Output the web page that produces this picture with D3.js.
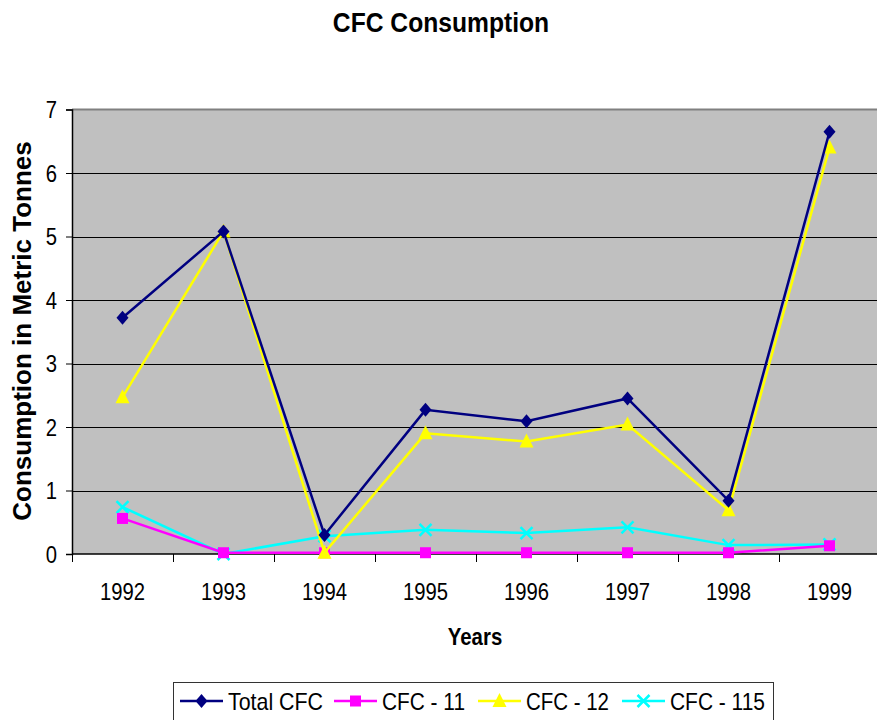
<!DOCTYPE html>
<html><head><meta charset="utf-8">
<script src="https://cdn.jsdelivr.net/npm/d3@7"></script>
<style>body{margin:0;background:#fff}svg{display:block;font-family:"Liberation Sans",Arial,sans-serif}</style>
</head><body><svg id="c" width="877" height="720"></svg>
<script>
const years = ["1992","1993","1994","1995","1996","1997","1998","1999"];
const totalCFC = [3.72, 5.08, 0.30, 2.27, 2.09, 2.45, 0.84, 6.65];
const cfc11 = [0.56, 0.02, 0.02, 0.02, 0.02, 0.02, 0.02, 0.13];
const cfc12 = [2.47, 5.08, 0.02, 1.90, 1.77, 2.04, 0.69, 6.40];
const cfc115 = [0.74, 0.00, 0.28, 0.38, 0.33, 0.42, 0.14, 0.15];
const yTicks = [0,1,2,3,4,5,6,7];
const seriesNames = ["Total CFC","CFC - 11","CFC - 12","CFC - 115"];
const seriesColors = ["#000080","#FF00FF","#FFFF00","#00FFFF"];
const seriesShapes = ["diamond","square","triangle","x"];
const seriesValues = [totalCFC, cfc11, cfc12, cfc115];

const svg = d3.select("#c");
const L = 72, R = 880, T = 109.5, B = 554;
const x = d3.scaleBand().domain(years).range([L, R]);
const y = d3.scaleLinear().domain([0,7]).range([B, T]);

// squeeze text horizontally
function squeeze(sel, s){
  sel.each(function(){
    const w = this.getComputedTextLength();
    d3.select(this).attr("textLength", w*s).attr("lengthAdjust","spacingAndGlyphs");
  });
  return sel;
}

squeeze(svg.append("text").attr("x",441).attr("y",32).attr("text-anchor","middle")
  .attr("font-size",28).attr("font-weight","bold").text("CFC Consumption"), 0.88);

svg.append("rect").attr("x",L).attr("y",T).attr("width",R-L).attr("height",B-T).attr("fill","#C0C0C0");
svg.append("line").attr("x1",L).attr("x2",R).attr("y1",T).attr("y2",T).attr("stroke","#808080").attr("stroke-width",2);

// grid
svg.append("g").selectAll("line").data(yTicks.filter(d=>d>0&&d<7)).join("line")
  .attr("x1",L).attr("x2",R).attr("y1",d=>Math.round(y(d))+0.5).attr("y2",d=>Math.round(y(d))+0.5)
  .attr("stroke","#000").attr("stroke-width",1);

// y axis
const ya = svg.append("g").attr("transform",`translate(${L},0)`)
  .call(d3.axisLeft(y).tickValues(yTicks).tickSize(6).tickPadding(9).tickFormat(d3.format("d")));
ya.select(".domain").attr("stroke","#000").attr("stroke-width",1.5);
ya.selectAll(".tick line").attr("stroke","#000");
ya.selectAll("text").attr("font-size",23).attr("fill","#000").attr("font-family","Liberation Sans, Arial").attr("dy","0.35em");
squeeze(ya.selectAll("text"), 0.88);

// x axis
const xa = svg.append("g").attr("transform",`translate(0,${B})`);
xa.append("line").attr("x1",L).attr("x2",R).attr("y1",0).attr("y2",0).attr("stroke","#000").attr("stroke-width",1.5);
xa.selectAll(".tk").data(years.concat(["end"])).join("line")
  .attr("x1",(d,i)=>Math.round(L+i*x.bandwidth())+0.5).attr("x2",(d,i)=>Math.round(L+i*x.bandwidth())+0.5)
  .attr("y1",0).attr("y2",8).attr("stroke","#000");
squeeze(xa.selectAll(".lbl").data(years).join("text")
  .attr("x",d=>x(d)+x.bandwidth()/2).attr("y",46).attr("text-anchor","middle")
  .attr("font-size",23).text(d=>d), 0.88);

squeeze(svg.append("text").attr("x",475).attr("y",645).attr("text-anchor","middle")
  .attr("font-size",24).attr("font-weight","bold").text("Years"), 0.85);
svg.append("text").attr("transform","translate(31,331) rotate(-90)").attr("text-anchor","middle")
  .attr("font-size",26).attr("font-weight","bold").text("Consumption in Metric Tonnes");

function marker(g, shape, color, cx, cy){
  if(shape==="diamond"){
    g.append("path").attr("d",`M${cx},${cy-7}L${cx+6},${cy}L${cx},${cy+7}L${cx-6},${cy}Z`).attr("fill",color);
  } else if(shape==="square"){
    g.append("rect").attr("x",cx-5.5).attr("y",cy-5.5).attr("width",11).attr("height",11).attr("fill",color);
  } else if(shape==="triangle"){
    g.append("path").attr("d",`M${cx},${cy-8}L${cx+7},${cy+6}L${cx-7},${cy+6}Z`).attr("fill",color);
  } else {
    g.append("path").attr("d",`M${cx-6},${cy-6}L${cx+6},${cy+6}M${cx+6},${cy-6}L${cx-6},${cy+6}`)
      .attr("stroke",color).attr("stroke-width",2.5);
  }
}

const line = d3.line().x((d,i)=>x(years[i])+x.bandwidth()/2).y(d=>y(d));
const order = [3,1,2,0];
order.forEach(k=>{
  const g = svg.append("g");
  g.append("path").datum(seriesValues[k]).attr("d",line).attr("fill","none")
    .attr("stroke",seriesColors[k]).attr("stroke-width",2.5);
  seriesValues[k].forEach((v,i)=>marker(g, seriesShapes[k], seriesColors[k], x(years[i])+x.bandwidth()/2, y(v)));
});

// legend
const lg = svg.append("g");
lg.append("rect").attr("x",173.5).attr("y",682.5).attr("width",600).attr("height",40).attr("fill","#fff").attr("stroke","#333");
const items = [{x:180,w:95},{x:334,w:83},{x:478,w:83},{x:622,w:95}];
items.forEach((it,k)=>{
  const cy = 701;
  lg.append("line").attr("x1",it.x).attr("x2",it.x+43).attr("y1",cy).attr("y2",cy).attr("stroke",seriesColors[k]).attr("stroke-width",2.5);
  marker(lg, seriesShapes[k], seriesColors[k], it.x+21.5, cy);
  lg.append("text").attr("x",it.x+48).attr("y",cy+9).attr("font-size",24)
    .attr("textLength",it.w).attr("lengthAdjust","spacingAndGlyphs").text(seriesNames[k]);
});
</script></body></html>
